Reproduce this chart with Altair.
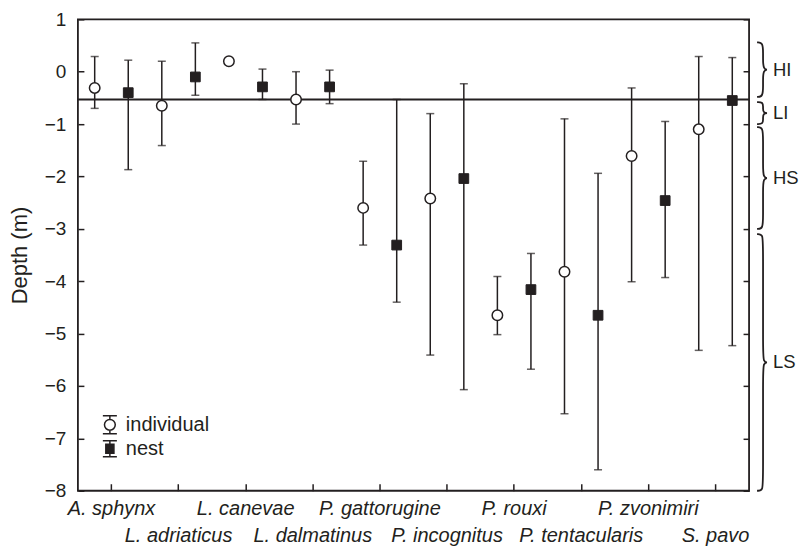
import altair as alt
import pandas as pd

# ---------------- data ----------------
species = ["A. sphynx", "L. adriaticus", "L. canevae", "L. dalmatinus", "P. gattorugine",
           "P. incognitus", "P. rouxi", "P. tentacularis", "P. zvonimiri", "S. pavo"]
lower_row = ["L. adriaticus", "L. dalmatinus", "P. incognitus", "P. tentacularis", "S. pavo"]

ind_mean = [-0.31, -0.65, 0.20, -0.53, -2.60, -2.42, -4.65, -3.82, -1.61, -1.10]
ind_hi = [0.29, 0.20, None, 0.00, -1.71, -0.80, -3.91, -0.90, -0.31, 0.29]
ind_lo = [-0.70, -1.41, None, -1.00, -3.31, -5.41, -5.02, -6.53, -4.01, -5.32]

nest_mean = [-0.40, -0.10, -0.29, -0.29, -3.31, -2.04, -4.16, -4.65, -2.46, -0.55]
nest_hi = [0.22, 0.55, 0.05, 0.03, -0.53, -0.23, -3.47, -1.94, -0.95, 0.27]
nest_lo = [-1.87, -0.45, -0.53, -0.61, -4.40, -6.07, -5.68, -7.60, -3.93, -5.23]

threshold = [-0.53]
zone_names = ["HI", "LI", "HS", "LS"]
zone_top = [0.56, -0.58, -1.06, -3.10]
zone_bottom = [-0.48, -1.00, -3.00, -8.00]

legend_types = ["individual", "nest"]
y_ticks = list(range(-8, 2))

# ---------------- tables ----------------
rows = []
for i, s in enumerate(species):
    rows.append({"species": s, "type": "individual", "mean": ind_mean[i], "lo": ind_lo[i], "hi": ind_hi[i]})
    rows.append({"species": s, "type": "nest", "mean": nest_mean[i], "lo": nest_lo[i], "hi": nest_hi[i]})
df = pd.DataFrame(rows)

brace_rows = []
label_rows = []
for name, t, b in zip(zone_names, zone_top, zone_bottom):
    m = (t + b) / 2
    h = min(0.12, (t - b) / 8)
    pts = [(0, t), (0.6, t), (0.6, t - 2 * h), (0.6, m + 2 * h), (0.6, m), (1.2, m),
           (0.6, m), (0.6, m - 2 * h), (0.6, b + 2 * h), (0.6, b), (0, b)]
    for k, (bx, by) in enumerate(pts):
        brace_rows.append({"zone": name, "k": k, "bx": bx, "by": by})
    label_rows.append({"zone": name, "mid": m, "bx": 1.6})
bdf = pd.DataFrame(brace_rows)
ldf = pd.DataFrame(label_rows)

# ---------------- style ----------------
BLACK = "#231f20"
FONT = "Liberation Sans"
W, H = 672, 472

xscale = alt.Scale(domain=species, paddingInner=0, paddingOuter=0)
yscale = alt.Scale(domain=[-8, 1], nice=False, zero=False)
xo = alt.XOffset("type:N", scale=alt.Scale(domain=legend_types, paddingInner=0, paddingOuter=0))

test_lower = "indexof([" + ",".join("'" + s + "'" for s in lower_row) + "], datum.value) >= 0"

x_axis_labels = alt.Axis(title=None, orient="bottom", domain=False, ticks=False, tickSize=0,
                         labelAngle=0, labelOverlap=False, labelFontSize=20, labelFontStyle="italic",
                         labelPadding={"condition": {"test": test_lower, "value": 35}, "value": 8})
x_axis_ticks = alt.Axis(title=None, orient="bottom", domain=False, labels=False, ticks=True,
                        tickSize=7, offset=-7)
y_axis_labels = alt.Axis(title="Depth (m)", orient="left", values=y_ticks, format="d", domain=False,
                         ticks=False, tickSize=0, labelPadding=12, labelFontSize=19,
                         titleFontSize=22, titleFontWeight="normal", titlePadding=13)
y_axis_ticks_l = alt.Axis(title=None, orient="left", values=y_ticks, domain=False, labels=False,
                          ticks=True, tickSize=6, offset=-6)
y_axis_ticks_r = alt.Axis(title=None, orient="right", values=y_ticks, domain=False, labels=False,
                          ticks=True, tickSize=6, offset=-6)

base = alt.Chart(df)

hline = alt.Chart(pd.DataFrame({"v": threshold})).mark_rule(color=BLACK, strokeWidth=2).encode(
    y=alt.Y("v:Q", scale=yscale, axis=None))

rules = base.mark_rule(color=BLACK, strokeWidth=1.5).encode(
    x=alt.X("species:N", scale=xscale, axis=x_axis_labels),
    xOffset=xo,
    y=alt.Y("lo:Q", scale=yscale, axis=y_axis_labels),
    y2="hi:Q")

caps_hi = base.mark_tick(color=BLACK, thickness=1.5, size=8, orient="horizontal").encode(
    x=alt.X("species:N", scale=xscale, axis=x_axis_ticks),
    xOffset=xo,
    y=alt.Y("hi:Q", scale=yscale, axis=y_axis_ticks_l))

caps_lo = base.mark_tick(color=BLACK, thickness=1.5, size=8, orient="horizontal").encode(
    x=alt.X("species:N", scale=xscale, axis=None),
    xOffset=xo,
    y=alt.Y("lo:Q", scale=yscale, axis=y_axis_ticks_r))

pts_ind = base.transform_filter(alt.datum.type == "individual").mark_point(
    shape="circle", filled=True, fill="white", stroke=BLACK, strokeWidth=1.5, size=110, opacity=1).encode(
    x=alt.X("species:N", scale=xscale, axis=None), xOffset=xo,
    y=alt.Y("mean:Q", scale=yscale, axis=None))

pts_nest = base.transform_filter(alt.datum.type == "nest").mark_point(
    shape="square", filled=True, fill=BLACK, stroke=BLACK, strokeWidth=1, size=95, opacity=1).encode(
    x=alt.X("species:N", scale=xscale, axis=None), xOffset=xo,
    y=alt.Y("mean:Q", scale=yscale, axis=None))

path_ind = ("M-0.78,-1H0.78M0,-1V-0.6M0.6,0A0.6,0.6,0,1,1,-0.6,0A0.6,0.6,0,1,1,0.6,0Z"
            "M0,0.6V1M-0.78,1H0.78")
path_nest = ("M-0.78,-0.9H0.78M0,-0.9V-0.5M-0.45,-0.5H0.45V0.5H-0.45Z"
             "M0,0.5V0.9M-0.78,0.9H0.78")

leg = alt.Legend(title=None, orient="none", legendX=22, legendY=396, symbolSize=324,
                 symbolStrokeWidth=1.5, symbolStrokeColor=BLACK, labelFont=FONT, labelFontSize=20,
                 labelColor=BLACK, labelOffset=6, rowPadding=0, padding=0)

legend_layer = alt.Chart(pd.DataFrame({"type": legend_types, "y": [5, 5]})).mark_point(
    filled=True, strokeWidth=1.5, clip=True, opacity=1).encode(
    y=alt.Y("y:Q", scale=yscale, axis=None),
    shape=alt.Shape("type:N", scale=alt.Scale(domain=legend_types, range=[path_ind, path_nest]), legend=leg),
    fill=alt.Fill("type:N", scale=alt.Scale(domain=legend_types, range=["white", BLACK]), legend=leg),
    stroke=alt.Stroke("type:N", scale=alt.Scale(domain=legend_types, range=[BLACK, BLACK]), legend=leg))

main = alt.layer(hline, rules, caps_hi, caps_lo, pts_ind, pts_nest, legend_layer).resolve_axis(
    x="independent", y="independent")

brace_x = alt.X("bx:Q", scale=alt.Scale(domain=[0, 1], range=[680, 690], zero=False, nice=False), axis=None)
brace_lines = alt.Chart(bdf).mark_line(color=BLACK, strokeWidth=1.8, interpolate="basis").encode(
    x=brace_x, y=alt.Y("by:Q", scale=yscale, axis=None), detail="zone:N", order="k:Q")
brace_text = alt.Chart(ldf).mark_text(align="left", baseline="middle", font=FONT, fontSize=18.5,
                                      color=BLACK).encode(
    x=brace_x, y=alt.Y("mid:Q", scale=yscale, axis=None), text="zone:N")
braces = alt.layer(brace_lines, brace_text)

chart = alt.layer(main, braces).resolve_scale(x="independent").resolve_axis(
    x="independent", y="independent").properties(
    width=W, height=H, padding={"left": 0, "top": 2, "right": 0, "bottom": 0}
).configure_view(stroke=BLACK, strokeWidth=1.8).configure_axis(
    labelFont=FONT, titleFont=FONT, labelColor=BLACK, titleColor=BLACK, tickColor=BLACK,
    domainColor=BLACK, grid=False, tickWidth=1.5)

chart.save("out.html", embed_options={"renderer": "svg", "actions": False})
